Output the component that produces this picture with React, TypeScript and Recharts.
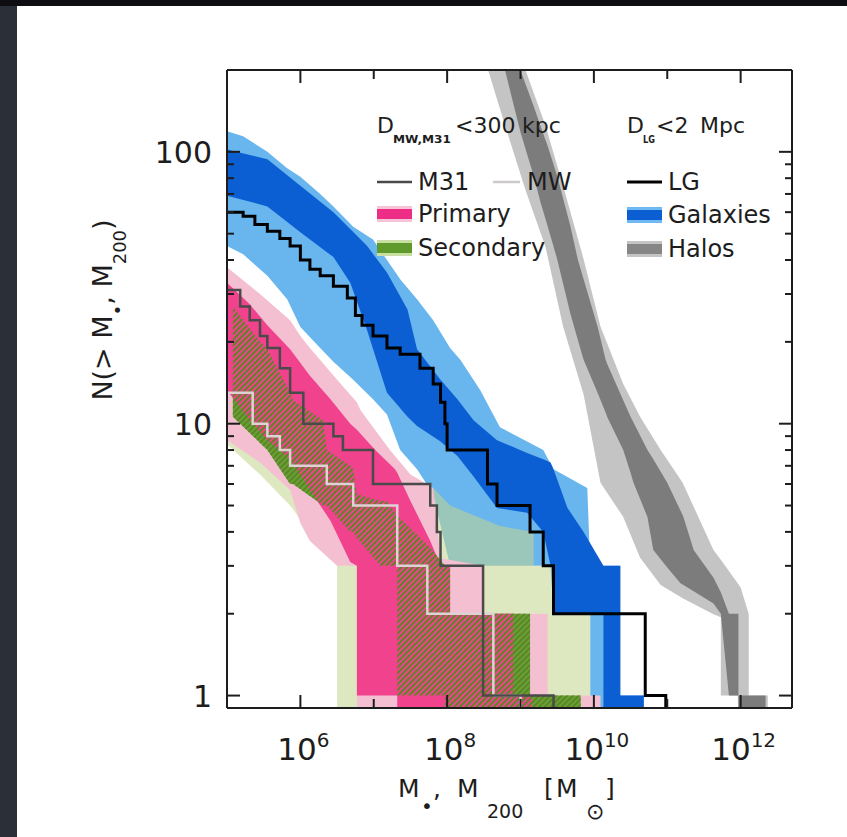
import React from "react";
import { Area, ComposedChart, Line, XAxis, YAxis } from "recharts";

// x is log10(M / Msun). Band rows are [log10 M, N low, N high], read off the
// figure. 0.5 stands for "N = 0", i.e. below the bottom of the log axis.

const halosOuter = [
	[8.56, 199, 400], [8.79, 125, 300], [9.07, 72, 199], [9.34, 44.8, 125],
	[9.58, 22.8, 75], [9.86, 12.8, 40.3], [10.09, 6.06, 22.8], [10.4, 4.54, 14],
	[10.63, 3.21, 10.6], [10.91, 2.55, 8.0], [11.21, 2.28, 6.06], [11.63, 1.99, 3.43],
	[11.73, 1.94, 3.16], [11.73, 1.0, 3.16], [11.96, 1.0, 2.59], [12.0, 0.5, 2.5],
	[12.11, 0.5, 2.0], [12.11, 0.5, 1.0], [12.37, 0.5, 1.0], [12.37, 0.5, 0.5],
];

const halosInner = [
	[8.79, 199, 280], [9.0, 118, 199], [9.18, 81.5, 147], [9.27, 65.7, 125],
	[9.37, 53.3, 105], [9.5, 40.3, 81.5], [9.68, 25.4, 53.3], [9.78, 20.4, 40.3],
	[9.86, 17.2, 34], [10.05, 13, 22.8], [10.16, 11, 17.2], [10.18, 10.6, 16.6],
	[10.4, 8.0, 12.2], [10.5, 6.6, 10.6], [10.54, 6.06, 10.1], [10.73, 4.54, 8.0],
	[10.81, 3.43, 7.4], [11.0, 2.96, 6.06], [11.18, 2.59, 4.79], [11.22, 2.55, 4.54],
	[11.36, 2.42, 3.43], [11.63, 2.18, 2.71], [11.73, 2.0, 2.4], [11.84, 1.0, 2.0],
	[11.97, 1.0, 2.0], [11.97, 0.5, 1.0], [12.34, 0.5, 1.0], [12.34, 0.5, 0.5],
];

const galaxiesOuter = [
	[5.0, 45, 119], [5.22, 42, 114], [5.55, 35, 100], [5.82, 28.7, 87],
	[6.0, 22.7, 81], [6.27, 19, 70], [6.45, 16.9, 63], [6.72, 14.5, 53],
	[6.99, 12.3, 47.6], [7.18, 10.8, 40], [7.36, 8.0, 34], [7.59, 6.8, 28.7],
	[7.81, 5.5, 24], [8.04, 3.0, 19], [8.18, 3.0, 17.2], [8.45, 3.0, 13.3],
	[8.72, 3.0, 9.7], [9.31, 3.0, 8], [9.45, 3.0, 6.8], [9.45, 2.0, 6.8],
	[9.91, 2.0, 5.8], [9.95, 2.0, 3.0], [9.95, 0.5, 3.0], [10.36, 0.5, 3.0],
	[10.36, 0.5, 1.0], [10.68, 0.5, 1.0], [10.68, 0.5, 0.5],
];

const galaxiesInner = [
	[5.0, 69, 102], [5.55, 63, 94], [6.0, 50.6, 75], [6.45, 41, 60],
	[6.68, 33, 52], [6.91, 22, 45], [7.18, 13, 36], [7.46, 10.6, 26.3],
	[7.59, 9.8, 18.8], [7.91, 8.6, 14.5], [8.14, 7.6, 12.3], [8.36, 6.4, 10.3],
	[8.68, 4.9, 8.7], [9.09, 4.7, 7.8], [9.31, 4.0, 7.4], [9.41, 3.0, 7.2],
	[9.45, 2.0, 6.8], [9.64, 2.0, 4.9], [9.86, 2.0, 4.0], [10.13, 2.0, 3.0],
	[10.13, 0.5, 3.0], [10.36, 0.5, 3.0], [10.36, 0.5, 1.0], [10.68, 0.5, 1.0],
	[10.68, 0.5, 0.5],
];

const primaryOuter = [
	[5.0, 8.7, 37.6], [5.45, 7.2, 30], [5.86, 5.7, 24], [6.0, 4.3, 21],
	[6.13, 3.7, 19], [6.5, 3.0, 14.5], [6.77, 3.0, 12], [6.77, 0.5, 12],
	[6.82, 0.5, 11.2], [7.22, 0.5, 8.0], [7.5, 0.5, 6.5], [7.81, 0.5, 5.8],
	[7.91, 0.5, 3.2], [8.49, 0.5, 3.0], [8.49, 0.5, 2.0], [9.37, 0.5, 2.0],
	[9.37, 0.5, 1.0], [10.09, 0.5, 1.0], [10.09, 0.5, 0.5],
];

const primaryInner = [
	[5.0, 13.3, 33], [5.31, 10.3, 27.5], [5.55, 8.7, 23], [5.86, 7.4, 18.8],
	[6.13, 5.7, 15], [6.41, 4.4, 12.3], [6.68, 3.1, 10], [6.77, 3.0, 9.5],
	[6.77, 1.0, 9.5], [7.02, 1.0, 8.0], [7.29, 1.0, 6.8], [7.32, 1.0, 6.6],
	[7.32, 0.5, 6.6], [7.5, 0.5, 5.2], [7.77, 0.5, 3.7], [7.91, 0.5, 3.0],
	[8.04, 0.5, 3.0], [8.04, 0.5, 2.0], [8.9, 0.5, 2.0], [8.9, 0.5, 1.0],
	[9.16, 0.5, 1.0], [9.16, 0.5, 0.5],
];

const secondaryOuter = [
	[5.0, 8.4, 30], [5.45, 6.5, 22], [5.86, 5.0, 17], [6.13, 4.0, 14],
	[6.5, 3.0, 10], [6.5, 0.5, 10], [6.82, 0.5, 9], [7.36, 0.5, 6.5],
	[7.81, 0.5, 5.8], [8.04, 0.5, 5.0], [8.72, 0.5, 4.2], [9.18, 0.5, 4.0],
	[9.18, 0.5, 3.0], [9.45, 0.5, 3.0], [9.45, 0.5, 2.0], [9.95, 0.5, 2.0],
	[9.95, 0.5, 0.5],
];

const secondaryInner = [
	[5.08, 10.6, 27], [5.45, 8.5, 20], [5.55, 8.0, 18.8], [5.86, 6.0, 13],
	[5.9, 6.0, 12.2], [6.31, 5.0, 10.3], [6.36, 5.0, 8.0], [6.68, 4.0, 7.0],
	[6.72, 4.0, 6.8], [6.77, 3.8, 5.5], [7.09, 3.0, 5.2], [7.18, 3.0, 5.2],
	[7.32, 3.0, 4.6], [7.32, 1.0, 4.6], [7.77, 1.0, 3.5], [7.97, 1.0, 3.0],
	[7.97, 0.5, 3.0], [8.04, 0.5, 3.0], [8.04, 0.5, 2.0], [9.13, 0.5, 2.0],
	[9.13, 0.5, 1.0], [9.82, 0.5, 1.0], [9.82, 0.5, 0.5],
];

// cumulative counts, [log10 M, N] drawn as steps
const lgCounts = [
	[5.0, 60], [5.22, 58], [5.38, 54], [5.55, 51], [5.72, 48], [5.86, 45],
	[6.0, 40], [6.13, 37], [6.27, 35], [6.45, 32], [6.64, 29], [6.75, 25],
	[6.84, 23], [6.99, 21], [7.18, 19], [7.36, 18], [7.63, 16], [7.81, 14],
	[7.91, 12], [7.97, 10], [8.0, 8], [8.55, 6], [8.68, 5], [9.13, 4],
	[9.31, 3], [9.45, 2], [10.7, 1], [10.98, 0.5],
];

const m31Counts = [
	[5.0, 31], [5.18, 27], [5.31, 24], [5.45, 21], [5.55, 19], [5.72, 16],
	[5.86, 13], [6.04, 10], [6.45, 9], [6.58, 8], [6.99, 6], [7.77, 5],
	[7.86, 4], [7.91, 3], [8.49, 1], [9.45, 0.5],
];

const mwCounts = [
	[5.0, 13], [5.35, 10], [5.55, 9], [5.72, 8], [5.86, 7], [6.36, 6],
	[6.72, 5], [7.32, 3], [7.73, 2], [8.63, 1], [9.0, 0.5],
];

const xTicks = [6, 7, 8, 9, 10, 11, 12];
const xLabelled = [6, 8, 10, 12];
const yTicks = [1, 2, 3, 4, 5, 6, 7, 8, 9, 10, 20, 30, 40, 50, 60, 70, 80, 90, 100];
const yLabelled = [1, 10, 100];

const FONT = "'DejaVu Sans', sans-serif";
const INK = "#1d1d1d";

const bandRows = (b: number[][]) => b.map(([m, lo, hi]) => ({ m, r: [lo, hi] }));
const stepRows = (s: number[][]) => s.map(([m, n]) => ({ m, n }));

function BottomTick(p: any) {
	const v = p.payload.value;
	const big = xLabelled.includes(v);
	return (
		<g>
			<line x1={p.x} x2={p.x} y1={p.y} y2={p.y - (big ? 13 : 9)} stroke={INK} strokeWidth={2} />
			{big && (
				<text x={p.x + 3} y={p.y + 52} textAnchor="middle" fontFamily={FONT} fontSize={31} fill={INK}>
					10
					<tspan dy={-13} fontSize={20}>
						{v}
					</tspan>
				</text>
			)}
		</g>
	);
}

function TopTick(p: any) {
	const big = xLabelled.includes(p.payload.value);
	return <line x1={p.x} x2={p.x} y1={p.y} y2={p.y + (big ? 13 : 9)} stroke={INK} strokeWidth={2} />;
}

function LeftTick(p: any) {
	const v = p.payload.value;
	const big = yLabelled.includes(v);
	return (
		<g>
			<line x1={p.x} x2={p.x + (big ? 13 : 7)} y1={p.y} y2={p.y} stroke={INK} strokeWidth={2} />
			{big && (
				<text x={p.x - 15} y={p.y + 11} textAnchor="end" fontFamily={FONT} fontSize={30} fill={INK}>
					{v}
				</text>
			)}
		</g>
	);
}

function RightTick(p: any) {
	const big = yLabelled.includes(p.payload.value);
	return <line x1={p.x} x2={p.x - (big ? 13 : 7)} y1={p.y} y2={p.y} stroke={INK} strokeWidth={2} />;
}

const band = (data: number[][], fill: string, opacity = 1) => (
	<Area
		data={bandRows(data)}
		dataKey="r"
		type="linear"
		stroke="none"
		fill={fill}
		fillOpacity={opacity}
		isAnimationActive={false}
		dot={false}
		activeDot={false}
	/>
);

const steps = (data: number[][], stroke: string, width: number) => (
	<Line
		data={stepRows(data)}
		dataKey="n"
		type="stepAfter"
		stroke={stroke}
		strokeWidth={width}
		dot={false}
		activeDot={false}
		isAnimationActive={false}
	/>
);

function Swatch({ x, y, outer, inner }: { x: number; y: number; outer: string; inner: string }) {
	return (
		<g>
			<rect x={x} y={y - 8} width={35} height={16} fill={outer} />
			<rect x={x} y={y - 5} width={35} height={10} fill={inner} />
		</g>
	);
}

export default function App() {
	const axisLine = { stroke: INK, strokeWidth: 2 };
	return (
		<div style={{ position: "absolute", left: 0, top: 0, width: 847, height: 837, background: "#fff", overflow: "hidden" }}>
			<svg width={0} height={0} style={{ position: "absolute" }}>
				<defs>
					<pattern id="hatch" width={4} height={4} patternUnits="userSpaceOnUse" patternTransform="rotate(45)">
						<rect width={2} height={4} fill="#5c8526" />
					</pattern>
				</defs>
			</svg>
			<div style={{ position: "absolute", left: 0, top: 0, width: 17, height: 837, background: "#2b2f38" }} />
			<div style={{ position: "absolute", left: 0, top: 0, width: 847, height: 6, background: "#0d0d12" }} />
			<div style={{ position: "absolute", left: 0, top: 0 }}>
				<ComposedChart width={847} height={837} margin={{ top: 50, right: 35, bottom: 99, left: 167 }}>
					<XAxis
						type="number"
						dataKey="m"
						domain={[5, 12.7]}
						allowDataOverflow
						ticks={xTicks}
						interval={0}
						tick={BottomTick}
						tickLine={false}
						tickSize={0}
						tickMargin={0}
						axisLine={axisLine}
						height={30}
					/>
					<XAxis
						xAxisId="top"
						orientation="top"
						type="number"
						dataKey="m"
						domain={[5, 12.7]}
						allowDataOverflow
						ticks={xTicks}
						interval={0}
						tick={TopTick}
						tickLine={false}
						tickSize={0}
						tickMargin={0}
						axisLine={axisLine}
						height={20}
					/>
					<YAxis
						type="number"
						scale="log"
						domain={[0.9, 200]}
						allowDataOverflow
						ticks={yTicks}
						interval={0}
						tick={LeftTick}
						tickLine={false}
						tickSize={0}
						tickMargin={0}
						axisLine={axisLine}
						width={60}
					/>
					<YAxis
						yAxisId="right"
						orientation="right"
						type="number"
						scale="log"
						domain={[0.9, 200]}
						allowDataOverflow
						ticks={yTicks}
						interval={0}
						tick={RightTick}
						tickLine={false}
						tickSize={0}
						tickMargin={0}
						axisLine={axisLine}
						width={20}
					/>
					{band(halosOuter, "#c4c4c4")}
					{band(halosInner, "#7c7c7c")}
					{band(galaxiesOuter, "#69b6ef")}
					{band(galaxiesInner, "#0b5fd3")}
					{band(secondaryOuter, "#c2d58c", 0.55)}
					{band(primaryOuter, "#f3bfd1")}
					{band(secondaryInner, "#67a135")}
					{band(primaryInner, "#f0428d")}
					{/* overlap of the two inner bands shows up hatched */}
					{band(secondaryInner, "url(#hatch)")}
					{steps(mwCounts, "#dcd4d4", 2.5)}
					{steps(m31Counts, "#4a4a4a", 2.5)}
					{steps(lgCounts, "#000", 3)}
				</ComposedChart>
			</div>
			<svg width={847} height={837} style={{ position: "absolute", left: 0, top: 0, pointerEvents: "none" }} fontFamily={FONT} fill={INK}>
				{/* axis titles */}
				<text fontSize={25}>
					<tspan x={398} y={797}>M</tspan>
					<tspan x={421} y={813} fontSize={20}>•</tspan>
					<tspan x={433} y={797}>,</tspan>
					<tspan x={457} y={797}>M</tspan>
					<tspan x={487} y={818} fontSize={19}>200</tspan>
					<tspan x={544} y={797}>[</tspan>
					<tspan x={556} y={797}>M</tspan>
					<tspan x={586} y={819} fontSize={22}>⊙</tspan>
					<tspan x={605} y={797}>]</tspan>
				</text>
				<text transform="translate(112,310) rotate(-90)" textAnchor="middle" fontSize={27}>
					N(&gt; M<tspan dy={12} fontSize={18}>•</tspan>
					<tspan dy={-12}>, M</tspan>
					<tspan dy={14} fontSize={18}>200</tspan>
					<tspan dy={-14}>)</tspan>
				</text>

				{/* left legend block */}
				<text x={377} y={133} fontSize={22}>D</text>
				<text x={393} y={143} fontSize={10} fontWeight="bold" textLength={58} lengthAdjust="spacingAndGlyphs">
					MW,M31
				</text>
				<text x={455} y={133} fontSize={22}>&lt;300</text>
				<text x={522} y={133} fontSize={22}>kpc</text>

				<line x1={377} x2={412} y1={182} y2={182} stroke="#4a4a4a" strokeWidth={2.5} />
				<text x={418} y={190} fontSize={24}>M31</text>
				<line x1={493} x2={520} y1={182} y2={182} stroke="#cfcaca" strokeWidth={2.5} />
				<text x={527} y={190} fontSize={24}>MW</text>
				<Swatch x={377} y={214} outer="#f7c3d6" inner="#ee2e86" />
				<text x={418} y={222} fontSize={24}>Primary</text>
				<Swatch x={377} y={248} outer="#c9dea2" inner="#5f9a2a" />
				<text x={418} y={256} fontSize={24}>Secondary</text>

				{/* right legend block */}
				<text x={627} y={133} fontSize={22}>D</text>
				<text x={643} y={143} fontSize={10} fontWeight="bold" textLength={12} lengthAdjust="spacingAndGlyphs">
					LG
				</text>
				<text x={656} y={133} fontSize={22}>&lt;2</text>
				<text x={700} y={133} fontSize={22}>Mpc</text>

				<line x1={627} x2={662} y1={182} y2={182} stroke="#000" strokeWidth={3} />
				<text x={668} y={190} fontSize={24}>LG</text>
				<Swatch x={627} y={215} outer="#6fbaf3" inner="#0b5fd3" />
				<text x={668} y={223} fontSize={24}>Galaxies</text>
				<Swatch x={627} y={249} outer="#c4c4c4" inner="#868686" />
				<text x={668} y={257} fontSize={24}>Halos</text>
			</svg>
		</div>
	);
}
